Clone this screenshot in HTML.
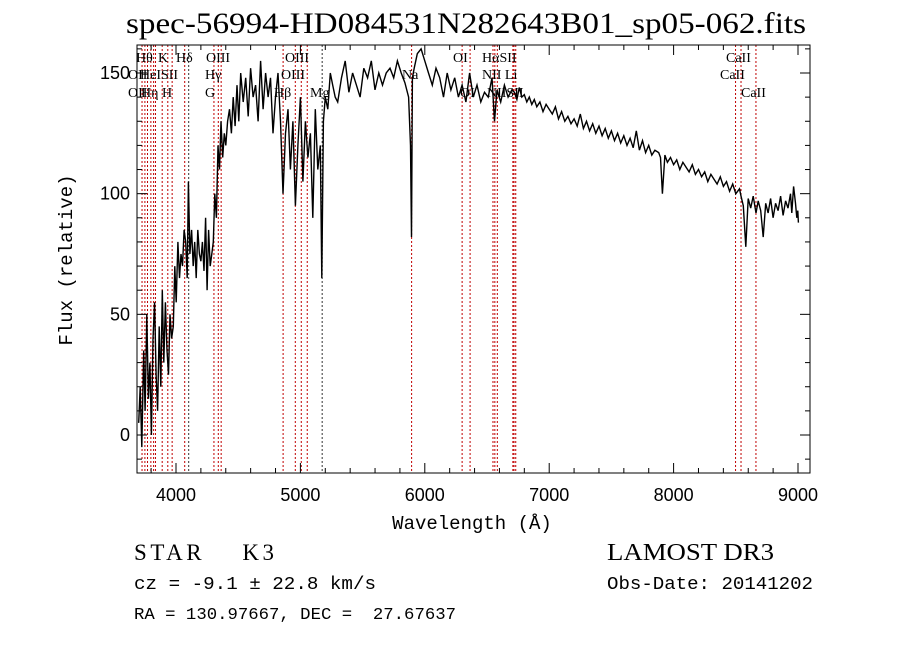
<!DOCTYPE html>
<html><head><meta charset="utf-8"><style>
body{margin:0;background:#fff;width:900px;height:649px;overflow:hidden}
svg{display:block}
text{white-space:pre}
</style></head><body>
<svg id="chart" width="900" height="649" xmlns="http://www.w3.org/2000/svg" xml:space="preserve">
<rect width="900" height="649" fill="#fff"/>
<text x="126" y="33" font-family="Liberation Serif, serif" font-size="30" textLength="680" lengthAdjust="spacingAndGlyphs">spec-56994-HD084531N282643B01_sp05-062.fits</text>
<g id="lines"></g>
<g id="series"></g>
<g id="axes"></g>
<text x="472" y="529" font-family="Liberation Mono, monospace" font-size="19" text-anchor="middle">Wavelength (Å)</text>
<text transform="translate(72,260) rotate(-90)" font-family="Liberation Mono, monospace" font-size="19" text-anchor="middle">Flux (relative)</text>
<text x="134" y="560" font-family="Liberation Serif, serif" font-size="23" textLength="140" lengthAdjust="spacing">STAR    K3</text>
<text x="607" y="560" font-family="Liberation Serif, serif" font-size="24" textLength="167" lengthAdjust="spacingAndGlyphs">LAMOST DR3</text>
<text x="134" y="589" font-family="Liberation Mono, monospace" font-size="18" textLength="242" lengthAdjust="spacingAndGlyphs">cz = -9.1 ± 22.8 km/s</text>
<text x="607" y="589" font-family="Liberation Mono, monospace" font-size="18" textLength="206" lengthAdjust="spacingAndGlyphs">Obs-Date: 20141202</text>
<text x="134" y="619" font-family="Liberation Mono, monospace" font-size="17" textLength="322" lengthAdjust="spacingAndGlyphs">RA = 130.97667, DEC =  27.67637</text>
</svg>
<script>
const xTicks=[4000,5000,6000,7000,8000,9000];
const yTicks=[0,50,100,150];
const wave=[3700,3712,3725,3740,3752,3765,3778,3790,3802,3815,3828,3840,3852,3865,3878,3890,3902,3915,3928,3940,3952,3965,3978,3990,4002,4015,4028,4040,4052,4065,4078,4090,4100,4112,4125,4138,4150,4162,4175,4188,4200,4212,4225,4238,4250,4262,4275,4288,4300,4312,4325,4338,4350,4362,4375,4388,4400,4415,4430,4445,4460,4475,4490,4505,4520,4540,4560,4580,4600,4620,4640,4660,4680,4700,4720,4740,4760,4780,4800,4820,4840,4860,4880,4900,4920,4940,4960,4980,5000,5020,5040,5060,5080,5100,5120,5140,5160,5172,5185,5200,5220,5240,5260,5280,5300,5330,5360,5390,5420,5450,5480,5510,5540,5570,5600,5630,5660,5690,5720,5750,5780,5810,5840,5870,5885,5893,5900,5915,5940,5970,6000,6030,6060,6090,6120,6150,6180,6210,6240,6270,6300,6330,6360,6390,6420,6450,6480,6510,6540,6560,6580,6610,6640,6670,6700,6720,6740,6760,6780,6800,6820,6840,6860,6880,6900,6925,6950,6975,7000,7025,7050,7075,7100,7125,7150,7175,7200,7225,7250,7275,7300,7325,7350,7375,7400,7425,7450,7475,7500,7525,7550,7575,7600,7625,7650,7675,7700,7725,7750,7775,7800,7825,7850,7880,7895,7910,7930,7950,7975,8000,8025,8050,8075,8100,8125,8150,8175,8200,8225,8250,8275,8300,8325,8350,8375,8400,8425,8450,8475,8500,8530,8542,8560,8580,8600,8620,8640,8662,8680,8700,8720,8740,8760,8780,8800,8820,8840,8860,8880,8900,8920,8940,8950,8965,8980,8990,8998,9003];
const flux=[5,20,-5,35,10,50,15,30,0,40,55,25,10,45,20,60,30,55,35,25,50,40,45,70,55,80,65,75,70,85,80,65,105,75,85,70,80,65,85,75,72,80,68,90,60,85,70,75,80,100,90,120,110,130,115,125,120,130,135,125,140,128,145,130,150,138,148,132,152,140,145,130,155,135,150,140,148,125,140,150,130,100,125,135,110,130,95,120,140,105,130,115,125,90,135,110,120,65,130,140,135,150,145,140,138,148,155,142,150,145,140,152,148,155,143,150,145,150,152,148,155,150,146,140,120,82,148,152,158,160,155,150,145,152,148,140,150,143,148,140,145,138,150,140,145,138,142,140,148,130,143,138,145,140,143,142,139,144,140,141,138,140,137,139,136,138,134,137,135,133,136,131,134,130,132,129,131,128,133,127,130,126,129,125,128,124,127,123,126,122,125,121,124,120,123,119,126,118,122,117,120,116,118,117,115,100,116,113,115,112,114,110,113,111,109,112,108,110,107,109,105,108,106,104,107,103,105,101,104,100,102,99,95,78,98,94,99,92,97,93,82,96,92,98,90,96,93,99,91,97,94,100,92,103,96,90,93,88,40,0];
const lineWaves=[3727,3750,3771,3798,3820,3835,3889,3934,3969,4070,4102,4305,4340,4363,4861,4959,5007,5055,5175,5894,6300,6364,6548,6563,6583,6708,6717,6731,8498,8542,8662];
const lineBlack=[5175,4102];
const labels=[["Hθ",136,62],["K",158,62],["Hδ",176,62],["OIII",206,62],["OIII",285,62],["OI",453,62],["HαSII",482,62],["CaII",726,62],["OII",128,79],["HeISII",140,79],["Hγ",205,79],["OIII",281,79],["Na",402,79],["NII Li",482,79],["CaII",720,79],["OII",128,97],["Hη",141,97],["H",162,97],["G",205,97],["Hβ",274,97],["Mg",310,97],["OI",460,97],["NIISII",487,97],["CaII",741,97]];
const X0=137,X1=810,Y0=45,Y1=473;
const xs=w=>176+(w-4000)*(622/5000);
const ys=f=>435-f*(362/150);
const NS="http://www.w3.org/2000/svg";
function mk(tag,attrs,parent){const e=document.createElementNS(NS,tag);for(const k in attrs)e.setAttribute(k,attrs[k]);parent.appendChild(e);return e;}
const gl=document.getElementById('lines'),gs=document.getElementById('series'),ga=document.getElementById('axes');
lineWaves.forEach(w=>{const x=xs(w);const l=mk('line',{x1:x,x2:x,y1:Y0,y2:Y1,stroke:lineBlack.includes(w)?'#333':'#c00000','stroke-width':1,'stroke-dasharray':'2,2'},gl);

});
labels.forEach(a=>{const t=mk('text',{x:a[1],y:a[2],'font-family':'Liberation Serif, serif','font-size':14},gl);t.textContent=a[0];

});
let d='';wave.forEach((w,i)=>{d+=(i?'L':'M')+xs(w).toFixed(1)+','+ys(flux[i]).toFixed(1);});
const p=mk('path',{d:d,fill:'none',stroke:'#000','stroke-width':1.4},gs);


const r=mk('rect',{x:X0,y:Y0,width:X1-X0,height:Y1-Y0,fill:'none',stroke:'#000','stroke-width':1},ga);


for(let w=3800;w<=9100;w+=200){const x=xs(w);if(x<X0||x>X1)continue;const big=w%1000===0;
mk('line',{x1:x,x2:x,y1:Y1,y2:Y1-(big?10:5),stroke:'#000'},ga);mk('line',{x1:x,x2:x,y1:Y0,y2:Y0+(big?10:5),stroke:'#000'},ga);}
for(let f=-10;f<=160;f+=10){const y=ys(f);if(y<Y0||y>Y1)continue;const big=f%50===0;
mk('line',{x1:X0,x2:X0+(big?10:5),y1:y,y2:y,stroke:'#000'},ga);mk('line',{x1:X1,x2:X1-(big?10:5),y1:y,y2:y,stroke:'#000'},ga);}
xTicks.forEach(v=>{const t=mk('text',{x:xs(v),y:501,'font-family':'Liberation Sans, sans-serif','font-size':18,'text-anchor':'middle'},ga);t.textContent=v;

});
yTicks.forEach(v=>{const t=mk('text',{x:130,y:ys(v)+6,'font-family':'Liberation Sans, sans-serif','font-size':18,'text-anchor':'end'},ga);t.textContent=v;

});
</script>
</body></html>
